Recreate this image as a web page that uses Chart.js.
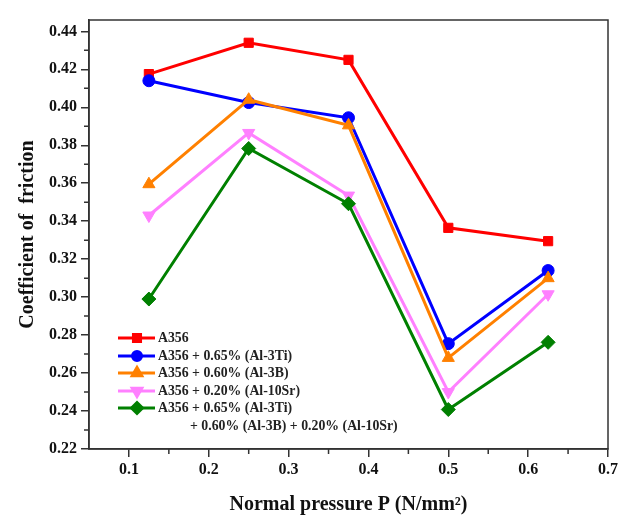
<!DOCTYPE html>
<html><head><meta charset="utf-8">
<script src="https://cdn.jsdelivr.net/npm/chart.js@4.4.1/dist/chart.umd.min.js"></script>
<style>html,body{margin:0;padding:0;background:#fff}#wrap{width:621px;height:517px}</style>
</head><body><div id="wrap"><canvas id="c" width="621" height="517"></canvas></div>
<script>
const pressures = [0.125, 0.25, 0.375, 0.5, 0.625];
const seriesNames = ["A356", "A356 + 0.65% (Al-3Ti)", "A356 + 0.60% (Al-3B)", "A356 + 0.20% (Al-10Sr)", "A356 + 0.65% (Al-3Ti)"];
const legendExtraLine = "+ 0.60% (Al-3B) + 0.20% (Al-10Sr)";
const a356 = [0.4175, 0.434, 0.425, 0.3365, 0.3295];
const a356Ti = [0.414, 0.4025, 0.3945, 0.2755, 0.314];
const a356B = [0.3595, 0.404, 0.3905, 0.268, 0.31];
const a356Sr = [0.343, 0.3865, 0.3535, 0.25, 0.3015];
const a356All = [0.299, 0.3783, 0.3492, 0.2408, 0.2762];
const xTicks = [0.1, 0.2, 0.3, 0.4, 0.5, 0.6, 0.7];
const xMinorTicks = [0.15, 0.25, 0.35, 0.45, 0.55, 0.65];
const yTicks = [0.22, 0.24, 0.26, 0.28, 0.30, 0.32, 0.34, 0.36, 0.38, 0.40, 0.42, 0.44];
const yMinorTicks = [0.23, 0.25, 0.27, 0.29, 0.31, 0.33, 0.35, 0.37, 0.39, 0.41, 0.43];
const xTitle = "Normal pressure P (N/mm\u00B2)";
const yTitle = "Coefficient of  friction";

const FONT = "'Liberation Serif','Times New Roman',serif";
const styles = [
  {color:'#ff0000', point:'rect', r:6.5, rot:0, order:5},
  {color:'#0000ff', point:'circle', r:6, rot:0, order:4},
  {color:'#ff8000', point:'triangle', r:7, rot:0, order:3},
  {color:'#ff80ff', point:'triangle', r:7, rot:180, order:2},
  {color:'#008000', point:'rectRot', r:7, rot:0, order:1}
];
const seriesValues = [a356, a356Ti, a356B, a356Sr, a356All];

const datasets = seriesValues.map((vals, i) => ({
  label: seriesNames[i],
  data: pressures.map((p, j) => ({x: p, y: vals[j]})),
  borderColor: styles[i].color,
  backgroundColor: styles[i].color,
  pointBackgroundColor: styles[i].color,
  pointBorderColor: styles[i].color,
  pointStyle: styles[i].point,
  pointRotation: styles[i].rot,
  pointRadius: styles[i].r,
  pointBorderWidth: 1,
  borderWidth: 3,
  tension: 0,
  order: styles[i].order
}));

const decor = {
  id: 'decor',
  afterDraw(chart) {
    const ctx = chart.ctx, ca = chart.chartArea;
    const xs = chart.scales.x, ys = chart.scales.y;
    ctx.save();
    ctx.strokeStyle = '#333';
    ctx.lineWidth = 1.5;
    ctx.strokeRect(ca.left, ca.top, ca.right - ca.left, ca.bottom - ca.top);
    ctx.beginPath();
    xMinorTicks.forEach(v => { const px = xs.getPixelForValue(v); ctx.moveTo(px, ca.bottom); ctx.lineTo(px, ca.bottom + 5); });
    yMinorTicks.forEach(v => { const py = ys.getPixelForValue(v); ctx.moveTo(ca.left, py); ctx.lineTo(ca.left - 5, py); });
    ctx.stroke();
    // legend
    const lx0 = ca.left + 29, lx1 = ca.left + 66, mx = ca.left + 48, tx = ca.left + 69;
    const rows = [111, 93, 76, 58, 41];
    ctx.font = "bold 13.8px " + FONT;
    ctx.textBaseline = 'middle';
    seriesNames.forEach((name, i) => {
      const y = ca.bottom - rows[i];
      ctx.strokeStyle = styles[i].color;
      ctx.lineWidth = 3;
      ctx.beginPath(); ctx.moveTo(lx0, y); ctx.lineTo(lx1, y); ctx.stroke();
      ctx.fillStyle = styles[i].color;
      Chart.helpers.drawPoint(ctx, {pointStyle: styles[i].point, rotation: styles[i].rot, radius: styles[i].r - 1.5, borderWidth: 1}, mx, y);
      ctx.fillStyle = '#222';
      ctx.fillText(name, tx, y);
    });
    ctx.fillText(legendExtraLine, ca.left + 101, ca.bottom - 23);
    ctx.restore();
  }
};

new Chart(document.getElementById('c'), {
  type: 'line',
  data: {datasets},
  options: {
    responsive: false,
    animation: false,
    devicePixelRatio: 1,
    layout: {padding: {top: 20, right: 12, left: 0, bottom: 0}},
    plugins: {legend: {display: false}, tooltip: {enabled: false}},
    scales: {
      x: {
        type: 'linear', min: 0.05, max: 0.7,
        afterBuildTicks: s => { s.ticks = xTicks.map(v => ({value: v})); },
        afterFit: s => { s.height = 68; },
        grid: {drawOnChartArea: false, drawTicks: true, tickLength: 8, color: '#333', lineWidth: 1.5},
        border: {display: true, color: '#333', width: 1.5},
        ticks: {color: '#111', font: {family: FONT, size: 16, weight: 'bold'}, padding: 3, maxRotation: 0,
          callback: v => Number(v).toFixed(1)},
        title: {display: true, text: xTitle, color: '#111', font: {family: FONT, size: 20, weight: 'bold'}, padding: {top: 10, bottom: 0}}
      },
      y: {
        type: 'linear', min: 0.22, max: 0.446,
        afterBuildTicks: s => { s.ticks = yTicks.map(v => ({value: v})); },
        afterFit: s => { s.width = 89; },
        grid: {drawOnChartArea: false, drawTicks: true, tickLength: 8, color: '#333', lineWidth: 1.5},
        border: {display: true, color: '#333', width: 1.5},
        ticks: {color: '#111', font: {family: FONT, size: 16, weight: 'bold'}, padding: 4,
          callback: v => Number(v).toFixed(2)},
        title: {display: true, text: yTitle, color: '#111', font: {family: FONT, size: 20, weight: 'bold'}, padding: {top: 16, bottom: 0}}
      }
    }
  },
  plugins: [decor]
});
</script>
</body></html>
